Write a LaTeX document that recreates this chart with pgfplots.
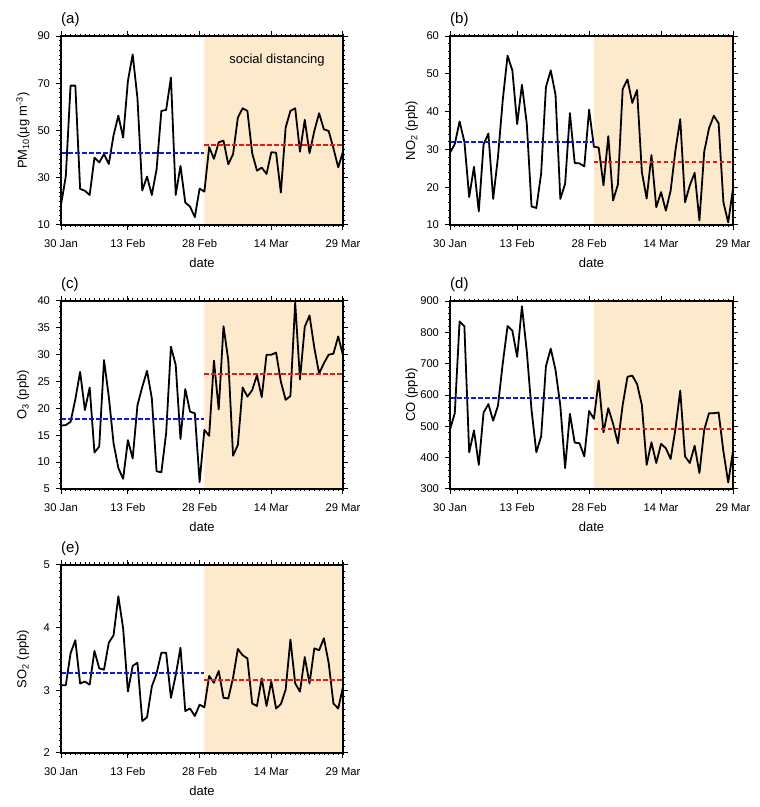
\documentclass[border=0pt]{standalone}
\usepackage{fontspec}
\setmainfont{Liberation Sans}
\usepackage{pgfplots}
\pgfplotsset{compat=1.18}
\usepackage{pgfplotstable}
\definecolor{shade}{RGB}{253,234,205}
\definecolor{mblue}{RGB}{20,20,230}
\definecolor{mred}{RGB}{225,25,25}

\pgfplotstableread{
day a b c d e
0 18.5 29.1 16.8 490 3.08
1 30.5 31.4 16.9 542 3.08
2 69 37.4 17.5 835 3.59
3 69 32 21.7 819 3.80
4 25.3 17.4 26.8 417 3.11
5 24.5 25.4 19.7 487 3.14
6 22.7 13.6 23.9 377 3.09
7 38.5 31.3 11.8 544 3.63
8 36.5 34.2 12.9 571 3.35
9 40 16.9 29 518 3.33
10 35.8 28 22.2 566 3.76
11 48 43.1 13.5 701 3.88
12 56.3 54.8 8.9 820 4.50
13 47 50.9 6.9 805 3.99
14 71 36.7 14.1 722 2.98
15 82.2 47.1 10.7 883 3.39
16 63.6 36.9 20.6 741 3.44
17 24.6 14.9 24 552 2.51
18 30.5 14.5 27 417 2.57
19 22.7 23.6 21.9 468 3.06
20 33.6 46.5 8.3 692 3.27
21 58.3 50.9 8.1 748 3.60
22 58.7 44.5 15.4 680 3.60
23 72.4 16.9 31.5 566 2.88
24 22.7 20.9 28.1 367 3.24
25 35 39.6 14.3 540 3.68
26 19.5 26.4 23.6 448 2.67
27 17.8 26.3 19.4 446 2.71
28 13.3 25.5 19.1 404 2.59
29 25.4 40.5 6.3 549 2.77
30 24.1 30.7 16 524 2.73
31 43 30.5 14.9 646 3.23
32 38 20.5 28.9 481 3.12
33 45 33.5 19.8 558 3.31
34 45.7 16.5 35.3 508 2.88
35 35.7 20.7 29 446 2.87
36 40 46 11.2 568 3.20
37 55.4 48.5 13.2 658 3.66
38 59.4 42.3 23.9 662 3.56
39 58.3 45.7 22.2 635 3.51
40 40.4 24 23.4 568 2.79
41 33 17 26.2 377 2.75
42 34.3 28.5 22.1 449 3.19
43 31.6 14.7 30 383 2.75
44 40.8 18.7 30 444 3.14
45 40.6 13.8 30.4 430 2.71
46 23.7 19.1 25 396 2.78
47 51.2 29.8 21.6 491 3.01
48 58.3 38 22.3 614 3.81
49 59.4 16 39.7 404 3.11
50 41 20.5 25.4 383 2.98
51 54.5 23.8 35.2 438 3.53
52 40.4 11.2 37.3 351 3.11
53 49.8 29.4 31.3 489 3.67
54 57.3 35.6 26.5 542 3.64
55 50.5 38.9 28.4 542 3.83
56 49.8 36.9 30 544 3.44
57 42.5 16 30.2 420 2.79
58 34.4 10.7 33.4 321 2.71
59 41 19.6 29.9 420 3.05
}\data

\pgfplotsset{panel/.style={
  scale only axis, width=282pt, height=189pt, anchor=south west,
  xmin=0, xmax=59, axis on top,
  xtick={0,14,29,44,59}, xticklabels={30 Jan,13 Feb,28 Feb,14 Mar,29 Mar},
  minor xtick={0,...,59},
  tick align=outside, major tick length=5pt, minor tick length=2.5pt,
  every major tick/.style={black, line width=1pt},
  every minor tick/.style={black, line width=0.7pt},
  axis line style={line width=1.4pt},
  tick label style={font=\fontsize{11.2}{13}\selectfont},
  xticklabel style={yshift=-6pt},
  yticklabel style={xshift=-2.5pt},
  label style={font=\fontsize{13}{15}\selectfont},
  xlabel={date},
  xlabel style={at={(axis description cs:0.5,-0.2)}, anchor=center},
  ylabel style={at={(axis description cs:-0.135,0.5)}, anchor=center},
  title style={at={(axis description cs:0,1.055)}, anchor=west, inner sep=0pt, font=\fontsize{15}{17}\selectfont},
  /pgf/number format/assume math mode=true,
  /pgf/number format/1000 sep={},
  data/.style={black, line width=1.8pt, line join=round},
  mpre/.style={mblue, line width=2pt, dash pattern=on 4.5pt off 2.5pt},
  mpost/.style={mred, line width=2pt, dash pattern=on 4.5pt off 2.5pt},
}}

\begin{document}
\begin{tikzpicture}
\useasboundingbox (0,0) rectangle (760pt,807pt);

% (a)
\begin{axis}[panel, at={(61pt,582pt)}, ymin=10, ymax=90, ytick={10,30,50,70,90}, minor y tick num=9,
  title={(a)}, ylabel={PM\textsubscript{10}(µg m\textsuperscript{-3})}]
\addplot[fill=shade, draw=none] coordinates {(30,10) (59,10) (59,90) (30,90) (30,10)};
\addplot[data] table[x=day,y=a] {\data};
\addplot[mpre] coordinates {(0,40.4) (30,40.4)};
\addplot[mpost] coordinates {(30,44.0) (59,44.0)};
\node[font=\fontsize{13}{15}\selectfont] at (axis cs:45.2,79.8) {social distancing};
\end{axis}

% (b)
\begin{axis}[panel, at={(450pt,582pt)}, width=283pt, ymin=10, ymax=60, ytick={10,20,...,60}, minor y tick num=4,
  title={(b)}, ylabel={NO\textsubscript{2} (ppb)}]
\addplot[fill=shade, draw=none] coordinates {(30,10) (59,10) (59,60) (30,60) (30,10)};
\addplot[data] table[x=day,y=b] {\data};
\addplot[mpre] coordinates {(0,31.9) (30,31.9)};
\addplot[mpost] coordinates {(30,26.6) (59,26.6)};
\end{axis}

% (c)
\begin{axis}[panel, at={(61pt,318pt)}, height=188pt, ymin=5, ymax=40, ytick={5,10,...,40}, minor y tick num=4,
  title={(c)}, ylabel={O\textsubscript{3} (ppb)}]
\addplot[fill=shade, draw=none] coordinates {(30,5) (59,5) (59,40) (30,40) (30,5)};
\addplot[data] table[x=day,y=c] {\data};
\addplot[mpre] coordinates {(0,18.0) (30,18.0)};
\addplot[mpost] coordinates {(30,26.4) (59,26.4)};
\end{axis}

% (d)
\begin{axis}[panel, at={(450pt,318pt)}, width=283pt, height=188pt, ymin=300, ymax=900, ytick={300,400,...,900}, minor y tick num=4,
  title={(d)}, ylabel={CO (ppb)}]
\addplot[fill=shade, draw=none] coordinates {(30,300) (59,300) (59,900) (30,900) (30,300)};
\addplot[data] table[x=day,y=d] {\data};
\addplot[mpre] coordinates {(0,590) (30,590)};
\addplot[mpost] coordinates {(30,490) (59,490)};
\end{axis}

% (e)
\begin{axis}[panel, at={(61pt,54pt)}, height=188pt, ymin=2, ymax=5, ytick={2,3,4,5}, minor y tick num=9,
  title={(e)}, ylabel={SO\textsubscript{2} (ppb)}]
\addplot[fill=shade, draw=none] coordinates {(30,2) (59,2) (59,5) (30,5) (30,2)};
\addplot[data] table[x=day,y=e] {\data};
\addplot[mpre] coordinates {(0,3.27) (30,3.27)};
\addplot[mpost] coordinates {(30,3.16) (59,3.16)};
\end{axis}
\end{tikzpicture}
\end{document}
